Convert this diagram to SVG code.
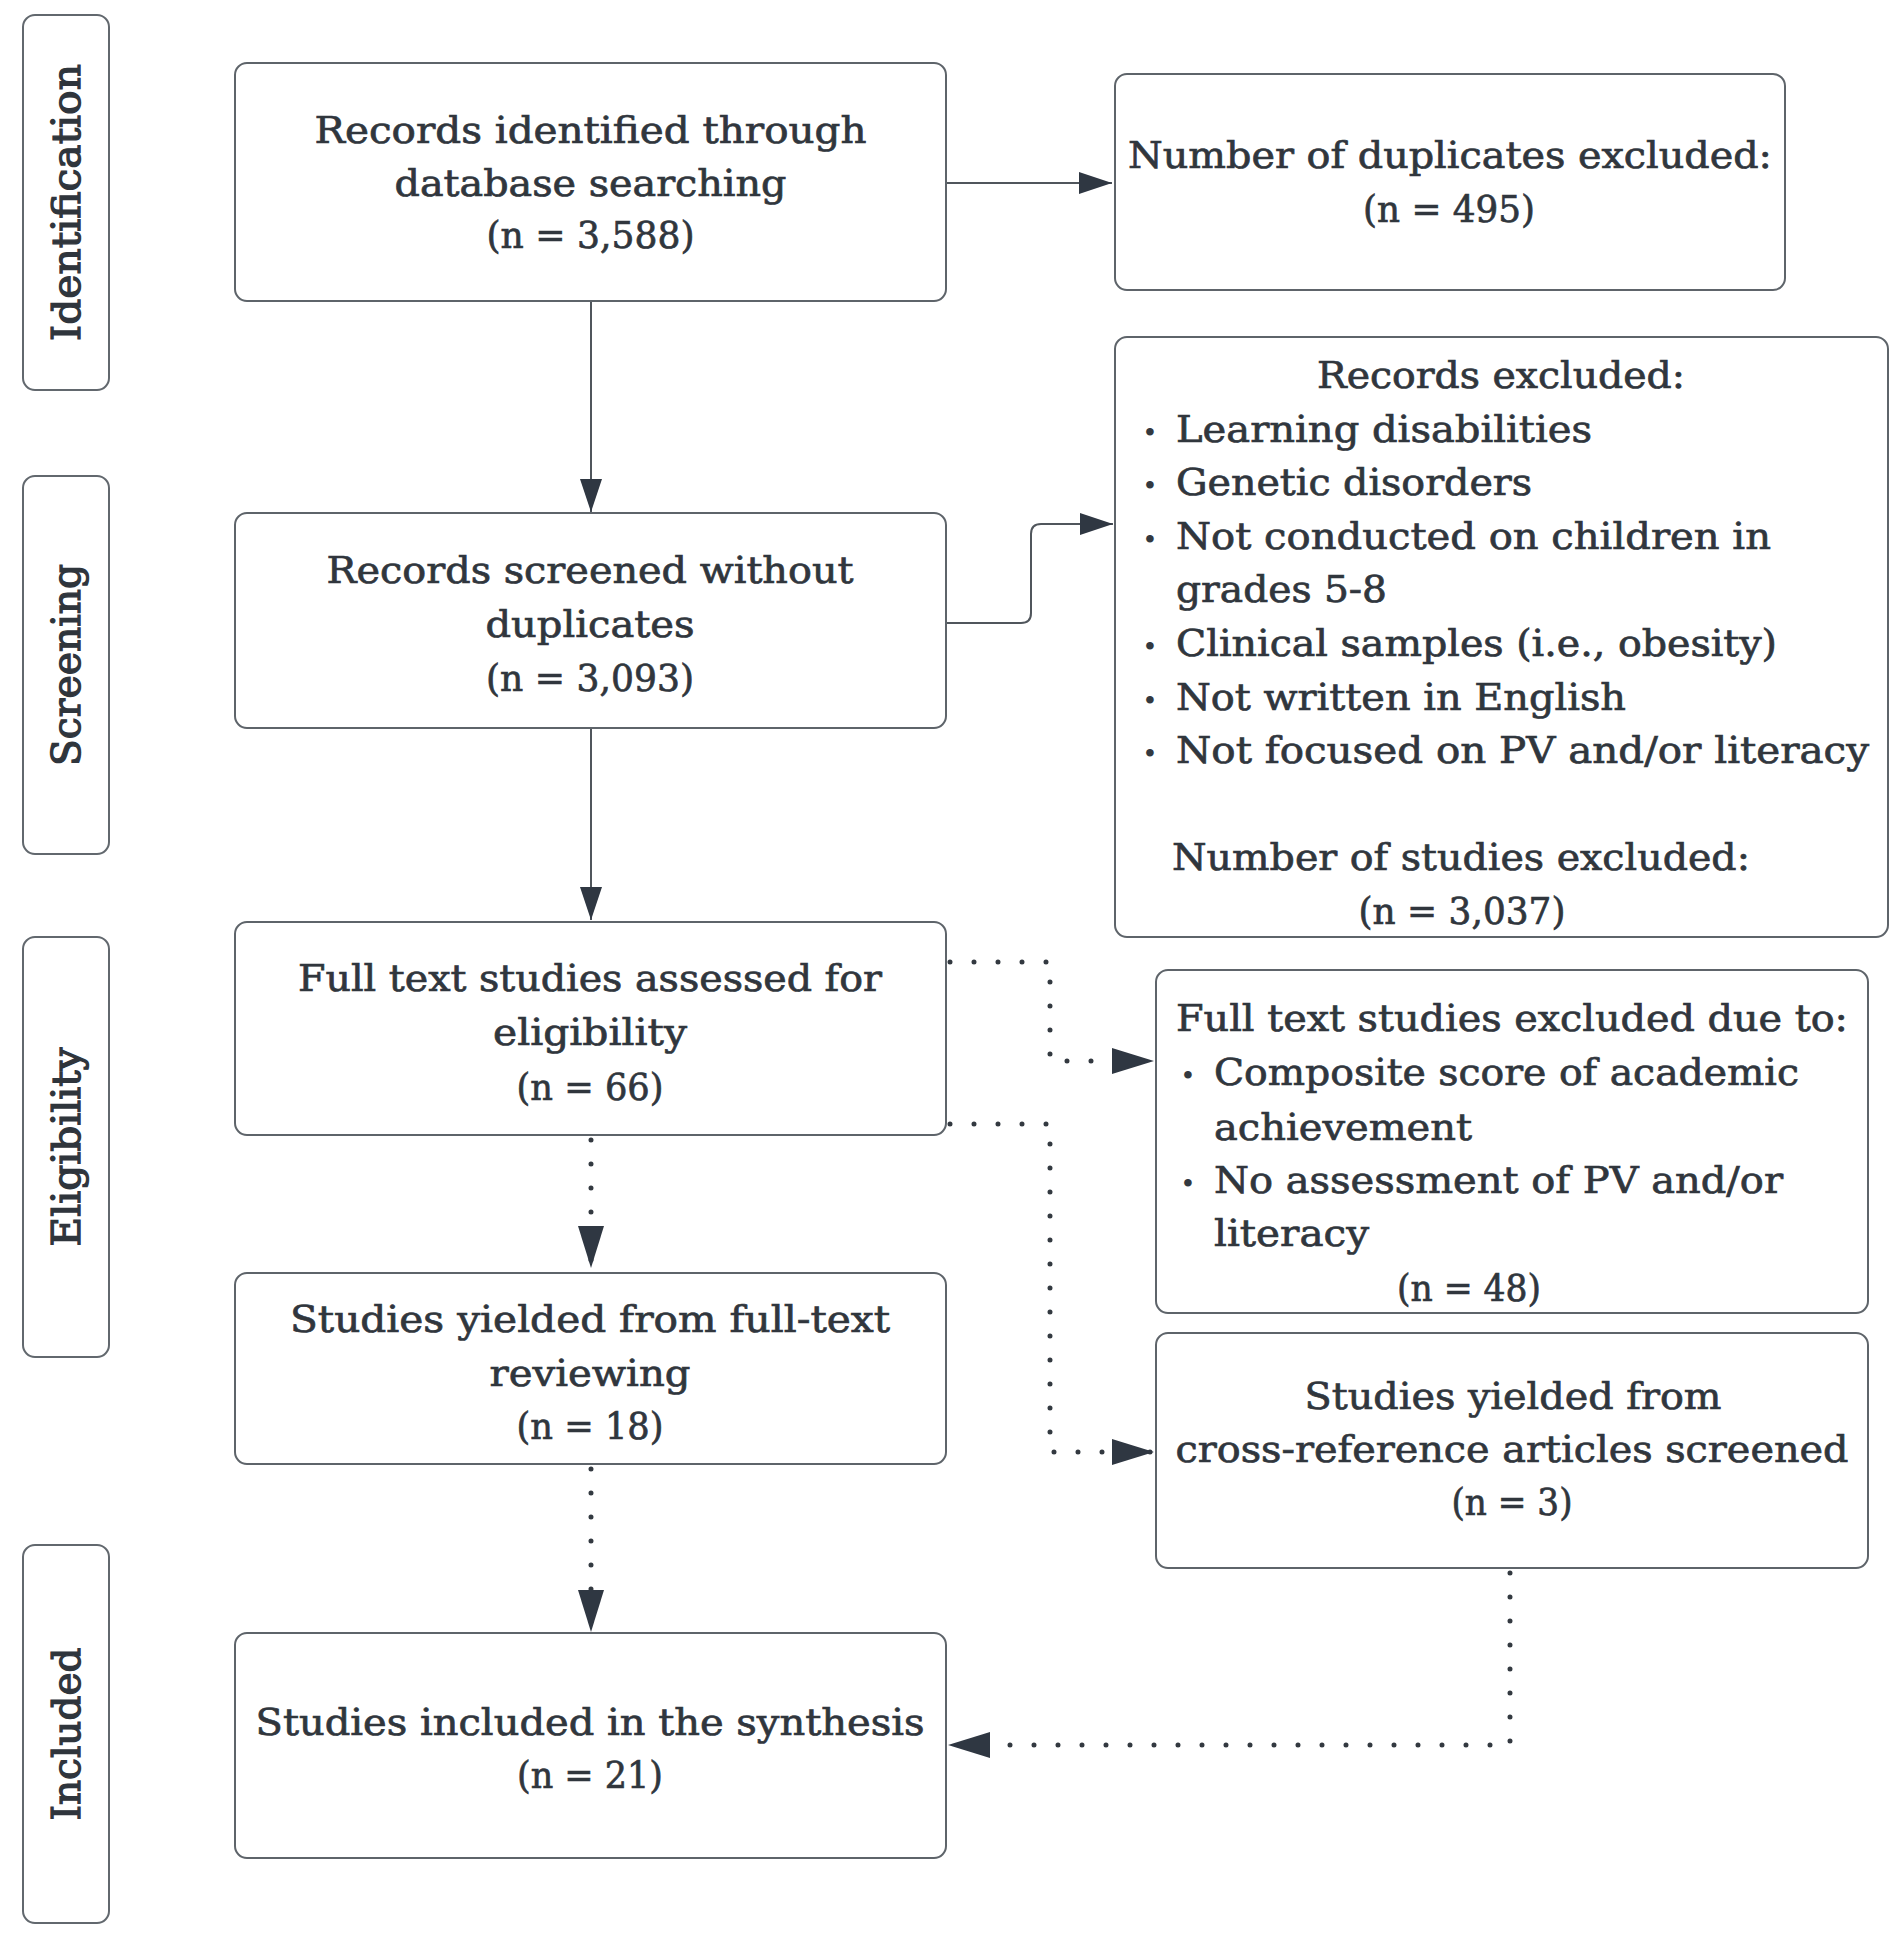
<svg xmlns="http://www.w3.org/2000/svg" width="1902" height="1933" viewBox="0 0 1902 1933">
<style>
.bg{fill:#ffffff}
.lane{fill:#ffffff;stroke:#62686e;stroke-width:2}
.box{fill:#ffffff;stroke:#5e646a;stroke-width:2}
.lt{font-family:"DejaVu Serif","Liberation Serif",serif;font-size:40px;fill:#2f353c;stroke:#2f353c;stroke-width:1.3;text-anchor:middle}
.t{font-family:"DejaVu Serif","Liberation Serif",serif;font-size:37px;fill:#30363d;stroke:#30363d;stroke-width:0.7}
.c{text-anchor:middle}
.b{font-family:"DejaVu Serif","Liberation Serif",serif;font-size:26px;fill:#333940;text-anchor:middle}
.solid{fill:none;stroke:#50565c;stroke-width:2}
.dot{fill:none;stroke:#333940;stroke-width:5;stroke-linecap:round;stroke-dasharray:0 24}
</style>
<defs>
<marker id="arr" viewBox="0 0 33 22" refX="33" refY="11" markerWidth="33" markerHeight="22" markerUnits="userSpaceOnUse" orient="auto">
<path d="M0,0 L33,11 L0,22 z" fill="#2f3742" stroke="none"/>
</marker>
<marker id="arrd" viewBox="0 0 42 26" refX="42" refY="13" markerWidth="42" markerHeight="26" markerUnits="userSpaceOnUse" orient="auto">
<path d="M0,0 L42,13 L0,26 z" fill="#2f3742" stroke="none"/>
</marker>
</defs>
<rect class="bg" x="0" y="0" width="1902" height="1933"/>

<g id="lane-identification">
<rect class="lane" x="23" y="15" width="86" height="375" rx="12"/>
<text class="lt" transform="translate(80,202.5) rotate(-90)" textLength="277" lengthAdjust="spacingAndGlyphs">Identification</text>
</g>
<g id="lane-screening">
<rect class="lane" x="23" y="476" width="86" height="378" rx="12"/>
<text class="lt" transform="translate(80,665) rotate(-90)" textLength="202" lengthAdjust="spacingAndGlyphs">Screening</text>
</g>
<g id="lane-eligibility">
<rect class="lane" x="23" y="937" width="86" height="420" rx="12"/>
<text class="lt" transform="translate(80,1147) rotate(-90)" textLength="199" lengthAdjust="spacingAndGlyphs">Eligibility</text>
</g>
<g id="lane-included">
<rect class="lane" x="23" y="1545" width="86" height="378" rx="12"/>
<text class="lt" transform="translate(80,1734) rotate(-90)" textLength="173" lengthAdjust="spacingAndGlyphs">Included</text>
</g>

<g id="connectors">
<path class="solid" d="M946,183 H1112" marker-end="url(#arr)"/>
<path class="solid" d="M591,301 V512" marker-end="url(#arr)"/>
<path class="solid" d="M946,623 H1021 Q1031,623 1031,613 V534 Q1031,524 1041,524 H1113" marker-end="url(#arr)"/>
<path class="solid" d="M591,728 V920" marker-end="url(#arr)"/>
<path class="dot" d="M591,1140 V1268" marker-end="url(#arrd)"/>
<path class="dot" d="M950,962 H1050 V1061 H1154" marker-end="url(#arrd)"/>
<path class="dot" d="M950,1124 H1050 V1452 H1154" marker-end="url(#arrd)"/>
<path class="dot" d="M591,1469 V1632" marker-end="url(#arrd)"/>
<path class="dot" d="M1510,1573 V1745 H948" marker-end="url(#arrd)"/>
</g>

<g id="node-identified">
<rect class="box" x="235" y="63" width="711" height="238" rx="12"/>
<text class="t c" x="590.5" y="143" textLength="552" lengthAdjust="spacingAndGlyphs">Records identified through</text>
<text class="t c" x="590.5" y="196" textLength="392" lengthAdjust="spacingAndGlyphs">database searching</text>
<text class="t c" x="590.5" y="248" textLength="208" lengthAdjust="spacingAndGlyphs">(n = 3,588)</text>
</g>

<g id="node-duplicates">
<rect class="box" x="1115" y="74" width="670" height="216" rx="12"/>
<text class="t c" x="1450" y="168" textLength="644" lengthAdjust="spacingAndGlyphs">Number of duplicates excluded:</text>
<text class="t c" x="1449" y="222" textLength="172" lengthAdjust="spacingAndGlyphs">(n = 495)</text>
</g>

<g id="node-records-excluded">
<rect class="box" x="1115" y="337" width="773" height="600" rx="12"/>
<text class="t c" x="1501" y="388" textLength="368" lengthAdjust="spacingAndGlyphs">Records excluded:</text>
<text class="b" x="1150" y="441.6">•</text>
<text class="t" x="1176" y="441.6" textLength="416" lengthAdjust="spacingAndGlyphs">Learning disabilities</text>
<text class="b" x="1150" y="495.2">•</text>
<text class="t" x="1176" y="495.2" textLength="356" lengthAdjust="spacingAndGlyphs">Genetic disorders</text>
<text class="b" x="1150" y="548.8">•</text>
<text class="t" x="1176" y="548.8" textLength="595" lengthAdjust="spacingAndGlyphs">Not conducted on children in</text>
<text class="t" x="1176" y="602.4" textLength="211" lengthAdjust="spacingAndGlyphs">grades 5-8</text>
<text class="b" x="1150" y="656">•</text>
<text class="t" x="1176" y="656" textLength="601" lengthAdjust="spacingAndGlyphs">Clinical samples (i.e., obesity)</text>
<text class="b" x="1150" y="709.6">•</text>
<text class="t" x="1176" y="709.6" textLength="450" lengthAdjust="spacingAndGlyphs">Not written in English</text>
<text class="b" x="1150" y="763.2">•</text>
<text class="t" x="1176" y="763.2" textLength="693" lengthAdjust="spacingAndGlyphs">Not focused on PV and/or literacy</text>
<text class="t" x="1172" y="870.4" textLength="578" lengthAdjust="spacingAndGlyphs">Number of studies excluded:</text>
<text class="t c" x="1462" y="924" textLength="207" lengthAdjust="spacingAndGlyphs">(n = 3,037)</text>
</g>

<g id="node-screened">
<rect class="box" x="235" y="513" width="711" height="215" rx="12"/>
<text class="t c" x="590" y="583" textLength="527" lengthAdjust="spacingAndGlyphs">Records screened without</text>
<text class="t c" x="590" y="637" textLength="209" lengthAdjust="spacingAndGlyphs">duplicates</text>
<text class="t c" x="590" y="691" textLength="208" lengthAdjust="spacingAndGlyphs">(n = 3,093)</text>
</g>

<g id="node-fulltext">
<rect class="box" x="235" y="922" width="711" height="213" rx="12"/>
<text class="t c" x="590" y="991" textLength="584" lengthAdjust="spacingAndGlyphs">Full text studies assessed for</text>
<text class="t c" x="590" y="1045" textLength="194" lengthAdjust="spacingAndGlyphs">eligibility</text>
<text class="t c" x="590" y="1100" textLength="147" lengthAdjust="spacingAndGlyphs">(n = 66)</text>
</g>

<g id="node-fulltext-excluded">
<rect class="box" x="1156" y="970" width="712" height="343" rx="12"/>
<text class="t c" x="1512" y="1031" textLength="672" lengthAdjust="spacingAndGlyphs">Full text studies excluded due to:</text>
<text class="b" x="1188" y="1085">•</text>
<text class="t" x="1214" y="1085" textLength="585" lengthAdjust="spacingAndGlyphs">Composite score of academic</text>
<text class="t" x="1214" y="1140" textLength="258" lengthAdjust="spacingAndGlyphs">achievement</text>
<text class="b" x="1188" y="1193">•</text>
<text class="t" x="1214" y="1193" textLength="569" lengthAdjust="spacingAndGlyphs">No assessment of PV and/or</text>
<text class="t" x="1214" y="1246" textLength="155" lengthAdjust="spacingAndGlyphs">literacy</text>
<text class="t c" x="1469" y="1301" textLength="144" lengthAdjust="spacingAndGlyphs">(n = 48)</text>
</g>

<g id="node-yielded-fulltext">
<rect class="box" x="235" y="1273" width="711" height="191" rx="12"/>
<text class="t c" x="590" y="1332" textLength="600" lengthAdjust="spacingAndGlyphs">Studies yielded from full-text</text>
<text class="t c" x="590" y="1386" textLength="201" lengthAdjust="spacingAndGlyphs">reviewing</text>
<text class="t c" x="590" y="1439" textLength="147" lengthAdjust="spacingAndGlyphs">(n = 18)</text>
</g>

<g id="node-crossref">
<rect class="box" x="1156" y="1333" width="712" height="235" rx="12"/>
<text class="t c" x="1513" y="1409" textLength="417" lengthAdjust="spacingAndGlyphs">Studies yielded from</text>
<text class="t c" x="1512" y="1462" textLength="673" lengthAdjust="spacingAndGlyphs">cross-reference articles screened</text>
<text class="t c" x="1512" y="1515" textLength="121" lengthAdjust="spacingAndGlyphs">(n = 3)</text>
</g>

<g id="node-included">
<rect class="box" x="235" y="1633" width="711" height="225" rx="12"/>
<text class="t c" x="590" y="1735" textLength="669" lengthAdjust="spacingAndGlyphs">Studies included in the synthesis</text>
<text class="t c" x="590" y="1788" textLength="146" lengthAdjust="spacingAndGlyphs">(n = 21)</text>
</g>
</svg>
